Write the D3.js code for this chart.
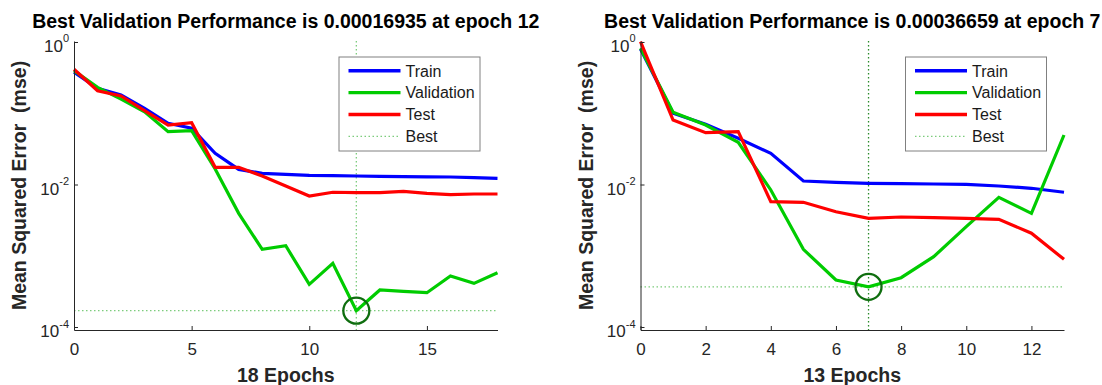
<!DOCTYPE html>
<html lang="en">

<head>
    <meta charset="UTF-8">
    <title>Best Validation Performance</title>
    <script src="https://cdn.jsdelivr.net/npm/d3@7"></script>
    <style>
        body { margin: 0; background: #fff; }
        svg { display: block; font-family: 'Liberation Sans', Arial, sans-serif; }
    </style>
</head>

<body>
    <script>
        // left run (18 epochs)
        const leftEpochs = [0, 1, 2, 3, 4, 5, 6, 7, 8, 9, 10, 11, 12, 13, 14, 15, 16, 17, 18];
        const leftTrain = [0.376, 0.224, 0.180, 0.117, 0.0723, 0.0615, 0.0274, 0.0163, 0.01435, 0.0139, 0.01346,
            0.0133, 0.01316, 0.01303, 0.01286, 0.0128, 0.01274, 0.01245, 0.01222];
        const leftValidation = [0.396, 0.231, 0.158, 0.105, 0.0551, 0.0569, 0.0165, 0.00394, 0.00123, 0.00138,
            0.000397, 0.000783, 0.00016935, 0.000331, 0.000317, 0.000303, 0.00052, 0.00041, 0.000578];
        const leftTest = [0.414, 0.207, 0.175, 0.1086, 0.0684, 0.0737, 0.0174, 0.0174, 0.01316, 0.00953, 0.0069,
            0.00778, 0.00768, 0.00768, 0.00803, 0.00752, 0.00719, 0.00736, 0.00736];
        const leftBestEpoch = 12;
        const leftBestPerf = 0.00016935;
        const leftXTicks = [0, 5, 10, 15];

        // right run (13 epochs)
        const rightEpochs = [0, 1, 2, 3, 4, 5, 6, 7, 8, 9, 10, 11, 12, 13];
        const rightTrain = [0.80, 0.0998, 0.070, 0.0445, 0.0274, 0.0112, 0.01074, 0.0104, 0.01026, 0.01016,
            0.01007, 0.00953, 0.00885, 0.00778];
        const rightValidation = [0.816, 0.1031, 0.0684, 0.0391, 0.00838, 0.00123, 0.000457, 0.00036659, 0.000492,
            0.00097, 0.00256, 0.00661, 0.00394, 0.0495];
        const rightTest = [1.01, 0.0804, 0.0533, 0.0551, 0.00574, 0.00562, 0.00415, 0.00335, 0.0035, 0.00342,
            0.00335, 0.00325, 0.00207, 0.000891];
        const rightBestEpoch = 7;
        const rightBestPerf = 0.00036659;
        const rightXTicks = [0, 2, 4, 6, 8, 10, 12];

        const yTicks = [1e0, 1e-2, 1e-4];
        const legendNames = ['Train', 'Validation', 'Test', 'Best'];

        const colors = {
            train: '#0000ff',
            validation: '#00cc00',
            test: '#ff0000',
            best: '#7ccc7c',
            circle: '#0f6e0f'
        };

        const W = 1102, H = 385;
        const plotW = 423.5;
        const plotTop = 41, plotBottom = 330;
        const ink = '#262626';

        const svg = d3.select('body')
            .append('svg')
            .attr('width', W)
            .attr('height', H);

        function drawPanel(p) {
            const x = d3.scaleLinear()
                .domain([0, p.epochs[p.epochs.length - 1]])
                .range([p.left, p.left + plotW]);

            const y = d3.scaleLog()
                .domain([Math.pow(10, -4.042), Math.pow(10, 0.014)])
                .range([plotBottom, plotTop]);

            const g = svg.append('g');

            // best lines
            g.append('line')
                .attr('x1', x.range()[0]).attr('x2', x.range()[1])
                .attr('y1', y(p.bestPerf)).attr('y2', y(p.bestPerf))
                .attr('stroke', colors.best)
                .attr('stroke-width', 1.3)
                .attr('stroke-dasharray', '1.5,2.5');

            g.append('line')
                .attr('x1', x(p.bestEpoch)).attr('x2', x(p.bestEpoch))
                .attr('y1', plotTop).attr('y2', plotBottom)
                .attr('stroke', p.vColor)
                .attr('stroke-width', 1.3)
                .attr('stroke-dasharray', '1.5,2.5');

            const line = d3.line()
                .x((d, i) => x(p.epochs[i]))
                .y(d => y(d));

            [[p.train, colors.train], [p.validation, colors.validation], [p.test, colors.test]]
                .forEach(([vals, c]) => {
                    g.append('path')
                        .datum(vals)
                        .attr('d', line)
                        .attr('fill', 'none')
                        .attr('stroke', c)
                        .attr('stroke-width', 3.2)
                        .attr('stroke-linejoin', 'miter');
                });

            g.append('circle')
                .attr('cx', x(p.bestEpoch))
                .attr('cy', y(p.bestPerf))
                .attr('r', 13)
                .attr('fill', 'none')
                .attr('stroke', colors.circle)
                .attr('stroke-width', 2.3);

            // axes
            const xAxis = g.append('g')
                .attr('transform', `translate(0,${plotBottom})`)
                .call(d3.axisBottom(x).tickValues(p.xTicks).tickSizeInner(-4).tickSizeOuter(0).tickPadding(13));

            const yAxis = g.append('g')
                .attr('transform', `translate(${p.left},0)`)
                .call(d3.axisLeft(y).tickValues(yTicks).tickSizeInner(-4).tickSizeOuter(0).tickFormat(''));

            [xAxis, yAxis].forEach(a => {
                a.select('.domain').attr('stroke', ink);
                a.selectAll('.tick line').attr('stroke', ink);
            });

            xAxis.selectAll('.tick text')
                .attr('fill', ink)
                .style('font-size', '17px')
                .style('font-family', 'Liberation Sans, Arial, sans-serif');

            yAxis.selectAll('.tick').each(function (d) {
                const t = d3.select(this).append('text')
                    .attr('x', -5)
                    .attr('y', 9.8)
                    .attr('dy', 0)
                    .attr('text-anchor', 'end')
                    .attr('fill', ink)
                    .style('font-family', 'Liberation Sans, Arial, sans-serif');
                t.append('tspan').style('font-size', '17px').text('10');
                t.append('tspan').attr('dy', -9.8).style('font-size', '11px').text(String(Math.round(Math.log10(d))));
            });

            // labels
            const cx = p.left + plotW / 2;
            svg.append('text')
                .attr('x', cx)
                .attr('y', 28)
                .attr('text-anchor', 'middle')
                .style('font-size', '19.5px')
                .style('font-weight', 'bold')
                .attr('fill', '#000')
                .text(p.title);

            svg.append('text')
                .attr('x', cx)
                .attr('y', 382)
                .attr('text-anchor', 'middle')
                .style('font-size', '19.5px')
                .style('font-weight', 'bold')
                .attr('fill', ink)
                .text(p.xLabel);

            svg.append('text')
                .attr('transform', `translate(${p.left - 48},${(plotTop + plotBottom) / 2}) rotate(-90)`)
                .attr('text-anchor', 'middle')
                .style('font-size', '19.5px')
                .style('font-weight', 'bold')
                .style('white-space', 'pre')
                .attr('fill', ink)
                .text('Mean Squared Error  (mse)');

            // legend
            const lx = p.left + plotW - 159;
            const legend = svg.append('g').attr('transform', `translate(${lx},56.5)`);

            legend.append('rect')
                .attr('x', 0.5).attr('y', 0.5)
                .attr('width', 141).attr('height', 94)
                .attr('fill', '#fff')
                .attr('stroke', '#808080');

            const legendColors = [colors.train, colors.validation, colors.test, colors.best];
            const items = legend.selectAll('.item')
                .data(legendNames)
                .enter().append('g')
                .attr('class', 'item')
                .attr('transform', (d, i) => `translate(0,${14.2 + i * 21.9})`);

            items.append('line')
                .attr('x1', 10).attr('x2', 62)
                .attr('stroke', (d, i) => legendColors[i])
                .attr('stroke-width', (d, i) => i === 3 ? 1.3 : 3.4)
                .attr('stroke-dasharray', (d, i) => i === 3 ? '1.5,2.5' : null);

            items.append('text')
                .attr('x', 67)
                .attr('y', 5.8)
                .style('font-size', '16px')
                .attr('fill', '#1a1a1a')
                .text(d => d);
        }

        drawPanel({
            left: 74,
            epochs: leftEpochs,
            train: leftTrain,
            validation: leftValidation,
            test: leftTest,
            bestEpoch: leftBestEpoch,
            bestPerf: leftBestPerf,
            xTicks: leftXTicks,
            vColor: colors.best,
            title: 'Best Validation Performance is 0.00016935 at epoch 12',
            xLabel: '18 Epochs'
        });

        drawPanel({
            left: 640.5,
            epochs: rightEpochs,
            train: rightTrain,
            validation: rightValidation,
            test: rightTest,
            bestEpoch: rightBestEpoch,
            bestPerf: rightBestPerf,
            xTicks: rightXTicks,
            vColor: '#2a8a2a',
            title: 'Best Validation Performance is 0.00036659 at epoch 7',
            xLabel: '13 Epochs'
        });
    </script>
</body>

</html>
